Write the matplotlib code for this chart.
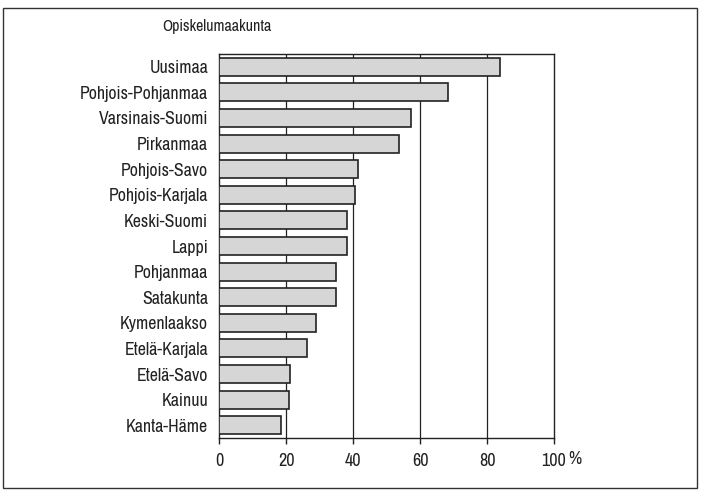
import matplotlib
matplotlib.use("Agg")
import matplotlib.pyplot as plt
from matplotlib.patches import Rectangle

regions = ["Uusimaa", "Pohjois-Pohjanmaa", "Varsinais-Suomi", "Pirkanmaa",
           "Pohjois-Savo", "Pohjois-Karjala", "Keski-Suomi", "Lappi",
           "Pohjanmaa", "Satakunta", "Kymenlaakso", "Etelä-Karjala",
           "Etelä-Savo", "Kainuu", "Kanta-Häme"]
values = [83.8, 68.3, 57.2, 53.8, 41.5, 40.6, 38.2, 38.2,
          35.0, 35.0, 29.0, 26.2, 21.0, 20.7, 18.5]
xticks = [0, 20, 40, 60, 80, 100]
xticklabels = ["0", "20", "40", "60", "80", "100"]
unit = "%"
title = "Opiskelumaakunta"

plt.rcParams['font.family'] = ['Archivo Narrow', 'DejaVu Sans']

fig = plt.figure(figsize=(7.02, 4.91), dpi=100)
W, H = 702, 491
left, right, top, bottom = 219.3, 554, 54, 438
ax = fig.add_axes([left / W, 1 - bottom / H, (right - left) / W, (bottom - top) / H])

ypos = list(range(len(regions)))
ax.barh(ypos, values, height=0.7, color='#d6d6d6', edgecolor='#222222',
        linewidth=1.2, zorder=3)
ax.set_ylim(len(regions) - 0.5, -0.5)
ax.set_xlim(0, 100)
ax.set_yticks(ypos)
ax.set_yticklabels(regions, fontsize=12.8, color='#222222')
ax.set_xticks(xticks)
ax.set_xticklabels(xticklabels, fontsize=13, color='#222222')
ax.tick_params(axis='y', length=0, pad=8)
ax.tick_params(axis='x', length=4, width=1, direction='out', pad=7, color='#222222')
ax.text(104.3, -0.034, unit, transform=ax.get_xaxis_transform(), fontsize=13,
        ha='left', va='top', color='#222222')
for x in xticks[1:-1]:
    ax.axvline(x, color='#222222', linewidth=0.9, zorder=1)
for s in ax.spines.values():
    s.set_color('#222222')
    s.set_linewidth(1.0)

fig.text(162 / W, 1 - 27 / H, title, fontsize=11.5, va='center', ha='left',
         color='#222222')

fig.patches.append(Rectangle((3 / W, 1 - 488 / H), 694 / W, 480 / H,
                             transform=fig.transFigure, fill=False,
                             edgecolor='#333333', linewidth=1.0))

fig.savefig("out.png", dpi=100)
